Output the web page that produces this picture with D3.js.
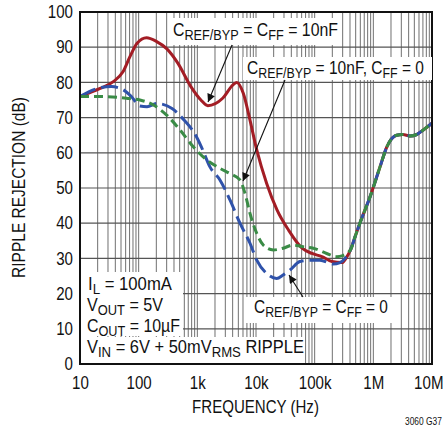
<!DOCTYPE html>
<html><head><meta charset="utf-8">
<script src="https://cdn.jsdelivr.net/npm/d3@7"></script>
<style>html,body{margin:0;padding:0;background:#fff}svg{display:block}text{font-family:"Liberation Sans",Arial,sans-serif;fill:#111}</style>
</head><body><svg id="c" width="444" height="427"></svg>
<script>
// ---- data ----
const xTicks = [10, 100, 1000, 10000, 100000, 1000000, 10000000];
const xTickLabels = ["10", "100", "1k", "10k", "100k", "1M", "10M"];
const yTicks = [0, 10, 20, 30, 40, 50, 60, 70, 80, 90, 100];

const tailFreq = [410000, 490000, 590000, 880000, 1300000, 1700000, 2500000, 3200000, 4200000, 5500000, 7100000, 10000000];
const tailDb   = [32.5, 36.2, 40, 47.5, 56, 61.7, 65, 65.2, 64.8, 65.2, 66.5, 68.4];

const redFreq = [10, 22, 37, 54, 71, 94, 136, 203, 300, 468, 776, 1150, 1510, 2700, 4050, 4700, 6070, 7900, 10300, 15200, 22800, 36000, 61000, 90000, 133000, 197000, 292000, 350000];
const redDb   = [76, 78.3, 80.2, 83, 87.3, 91.1, 92.7, 91.6, 89.6, 85.4, 78.8, 75, 73.4, 75.5, 79.3, 80, 76.9, 69.3, 60.8, 51.3, 43.8, 38, 32.9, 31.4, 30.5, 29.1, 28.8, 30.3];

const blueFreq = [10, 20, 34, 52, 75, 105, 139, 205, 370, 593, 912, 1170, 1640, 2430, 3600, 5330, 7900, 10300, 15200, 22500, 29000, 38000, 56000, 83000, 123000, 205000, 270000, 340000];
const blueDb   = [76, 78.3, 78.8, 78.1, 76, 73.3, 73.1, 74, 72.6, 69.3, 65.3, 61.7, 56, 52.3, 46.6, 40, 34.3, 29.5, 25.7, 24.3, 25.3, 26.7, 29.1, 29.5, 29.5, 28.4, 28.8, 30.3];

const greenFreq = [10, 22, 62, 105, 178, 300, 506, 853, 1440, 2430, 3600, 5330, 6490, 7900, 10300, 13300, 19700, 29000, 43000, 64000, 95000, 160000, 237000, 300000];
const greenDb   = [76, 76, 75.5, 75, 73.6, 70.7, 66.5, 61.7, 58, 55.6, 54.1, 52.3, 48.5, 42.8, 37.1, 33.8, 32.4, 32.9, 33.8, 33.3, 32.9, 31.4, 30.5, 30.8];

// ---- chart ----
const svg = d3.select("#c");
const L = 80, R = 432, T = 12, B = 364;
const x = d3.scaleLog().domain([10, 1e7]).range([L, R]);
const y = d3.scaleLinear().domain([0, 100]).range([B, T]);
const SX = 0.84; // condensed look

// grid
const minor = [];
for (let d = 10; d < 1e7; d *= 10) for (let k = 1; k <= 9; k++) minor.push(d * k);
const g = svg.append("g");
g.selectAll("line.vx").data(minor.filter(v => v > 10)).enter().append("line")
  .attr("x1", d => x(d)).attr("x2", d => x(d)).attr("y1", T).attr("y2", B)
  .attr("stroke", "#707070").attr("stroke-width", 1);
g.selectAll("line.hy").data(yTicks.filter(v => v > 0 && v < 100)).enter().append("line")
  .attr("x1", L).attr("x2", R).attr("y1", d => y(d)).attr("y2", d => y(d))
  .attr("stroke", "#555").attr("stroke-width", 1.2);

// series
const line = d3.line().x(d => x(d[0])).y(d => y(d[1])).curve(d3.curveMonotoneX);
function series(f, v) { return f.map((q, i) => [q, v[i]]).concat(tailFreq.map((q, i) => [q, tailDb[i]])); }
svg.append("clipPath").attr("id", "pc").append("rect").attr("x", L).attr("y", T).attr("width", R - L).attr("height", B - T);
const sg = svg.append("g").attr("clip-path", "url(#pc)");
sg.append("path").attr("d", line(series(redFreq, redDb))).attr("fill", "none").attr("stroke", "#a31d25").attr("stroke-width", 3);
sg.append("path").attr("d", line(series(blueFreq, blueDb))).attr("fill", "none").attr("stroke", "#2f52aa").attr("stroke-width", 3).attr("stroke-dasharray", "17,6");
sg.append("path").attr("d", line(series(greenFreq, greenDb))).attr("fill", "none").attr("stroke", "#3a8b46").attr("stroke-width", 3).attr("stroke-dasharray", "9,5");

// frame
svg.append("rect").attr("x", L).attr("y", T).attr("width", R - L).attr("height", B - T)
  .attr("fill", "none").attr("stroke", "#111").attr("stroke-width", 2);

// axes labels
const xa = d3.axisBottom(x).tickValues(xTicks).tickFormat((d, i) => xTickLabels[i]).tickSize(0).tickPadding(12);
const xg = svg.append("g").attr("transform", `translate(0,${B})`).call(xa);
xg.select(".domain").remove();
xg.selectAll("text").attr("font-size", 18).attr("fill", "#111").attr("font-family", "Liberation Sans, Arial, sans-serif")
  .attr("transform", `scale(${SX},1)`);
// last label ends at the picture's right edge, as in the reference
xg.selectAll("text").filter(d => d === 1e7).attr("text-anchor", "end").attr("x", 11 / SX);
const ya = d3.axisLeft(y).tickValues(yTicks).tickSize(0).tickPadding(7);
const yg = svg.append("g").attr("transform", `translate(${L},0)`).call(ya);
yg.select(".domain").remove();
yg.selectAll("text").attr("font-size", 18).attr("fill", "#111").attr("font-family", "Liberation Sans, Arial, sans-serif")
  .attr("transform", `translate(-7,0) scale(${SX},1) translate(7,0)`);

function fit(t, ax, target) {
  const w = t.node().getBBox().width;
  const s = target / w;
  t.attr("transform", `translate(${ax},0) scale(${s},1) translate(${-ax},0)`);
}
fit(svg.append("text").attr("x", 255.5).attr("y", 413).attr("text-anchor", "middle").attr("font-size", 19).text("FREQUENCY (Hz)"), 255.5, 127);
{
  const t = svg.append("text").attr("text-anchor", "middle").attr("font-size", 19).text("RIPPLE REJECTION (dB)");
  const w = t.node().getBBox().width;
  t.attr("transform", `translate(25,187.5) rotate(-90) scale(${181 / w},1)`);
}
fit(svg.append("text").attr("x", 405).attr("y", 425).attr("font-size", 10.5).text("3060 G37"), 405, 37);

// annotation boxes
function box(x0, y0, w, h) { svg.append("rect").attr("x", x0).attr("y", y0).attr("width", w).attr("height", h).attr("fill", "#fff"); }
function rich(x0, yb, parts, fs, target) {
  const t = svg.append("text").attr("x", x0).attr("y", yb).attr("font-size", fs);
  parts.forEach(p => {
    const s = t.append("tspan").text(p[0]);
    if (p[1]) s.attr("font-size", fs * 0.8).attr("dy", 4); else s.attr("dy", p[2] ? -4 : 0);
  });
  fit(t, x0, target);
  return t;
}
box(168, 18, 174, 27);
rich(173, 36, [["C"], ["REF/BYP", 1], [" = C", 0, 1], ["FF", 1], [" = 10nF", 0, 1]], 18, 165);
box(243, 57, 189, 23);
rich(247, 74, [["C"], ["REF/BYP", 1], [" = 10nF, C", 0, 1], ["FF", 1], [" = 0", 0, 1]], 18, 177);
box(244, 297, 155, 26);
rich(254, 313, [["C"], ["REF/BYP", 1], [" = C", 0, 1], ["FF", 1], [" = 0", 0, 1]], 18, 134);

box(81, 272, 102, 64);
box(81, 337, 223, 26);
rich(88, 290, [["I"], ["L", 1], [" = 100mA", 0, 1]], 18, 84);
rich(87, 311, [["V"], ["OUT", 1], [" = 5V", 0, 1]], 18, 76);
rich(87, 332, [["C"], ["OUT", 1], [" = 10µF", 0, 1]], 18, 93);
rich(87, 353, [["V"], ["IN", 1], [" = 6V + 50mV", 0, 1], ["RMS", 1], [" RIPPLE", 0, 1]], 18, 217);

// arrows
const defs = svg.append("defs");
defs.append("marker").attr("id", "ah").attr("viewBox", "0 0 10 10").attr("refX", 10).attr("refY", 5)
  .attr("markerWidth", 12).attr("markerHeight", 8).attr("markerUnits", "userSpaceOnUse").attr("orient", "auto")
  .append("path").attr("d", "M0,0 L10,5 L0,10 z").attr("fill", "#111");
function arrow(x1, y1, x2, y2) {
  svg.append("line").attr("x1", x1).attr("y1", y1).attr("x2", x2).attr("y2", y2)
    .attr("stroke", "#111").attr("stroke-width", 1.1).attr("marker-end", "url(#ah)");
}
arrow(232, 45, 208, 102);
arrow(285, 80, 243, 181);
arrow(303, 297, 289, 275);
</script></body></html>
